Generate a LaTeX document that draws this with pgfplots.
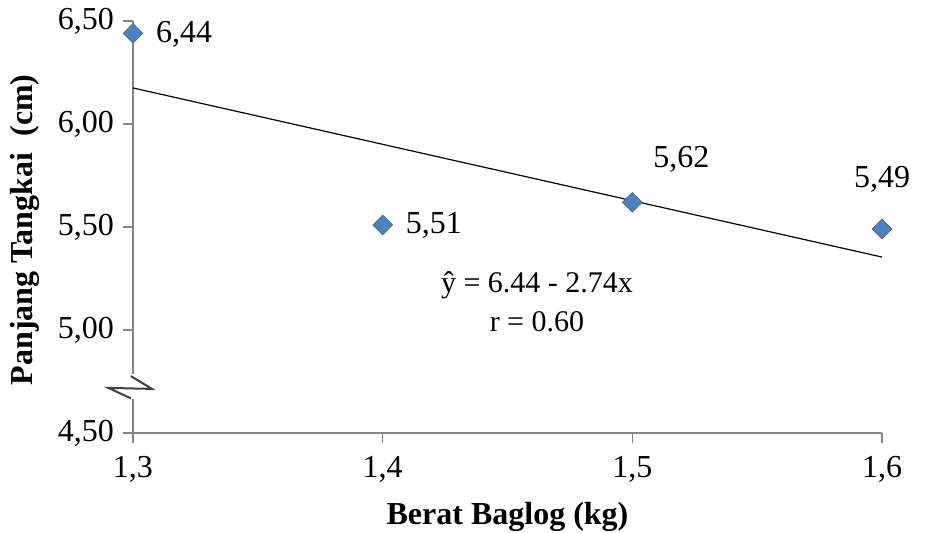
\documentclass[border=0pt]{standalone}
\usepackage{fontspec}
\setmainfont{Liberation Serif}
\usepackage{pgfplots}
\pgfplotsset{compat=1.18}

\definecolor{markblue}{HTML}{4F81BD}
\definecolor{axisgray}{HTML}{868686}

\begin{document}
\begin{tikzpicture}
\path[use as bounding box] (-66.5pt,-50pt) rectangle (396pt,216.5pt);
\begin{axis}[
    scale only axis,
    width=374.5pt,
    height=206pt,
    xmin=1.3, xmax=1.6,
    ymin=4.5, ymax=6.5,
    axis x line=bottom,
    axis y line=left,
    axis line style={axisgray, line width=0.6pt, -},
    xtick={1.3,1.4,1.5,1.6},
    ytick={4.5,5,5.5,6,6.5},
    tick align=outside,
    major tick length=5pt,
    tick style={axisgray, line width=0.6pt},
    xticklabel style={/pgf/number format/.cd, use comma, fixed, fixed zerofill, precision=1},
    yticklabel style={/pgf/number format/.cd, use comma, fixed, fixed zerofill, precision=2},
    /pgf/number format/assume math mode=true,
    ticklabel style={font=\fontsize{16}{19}\selectfont},
    xticklabel shift=3pt,
    yticklabel shift=1pt,
    clip=false,
]
% regression line
\addplot[black, line width=0.6pt] coordinates {(1.3,6.175) (1.6,5.354)};

% data points
\addplot[only marks, mark=square*, mark size=3.5pt,
    mark options={rotate=45, fill=markblue, draw=markblue!80!black, line width=0.3pt}]
    coordinates {(1.3,6.44) (1.4,5.51) (1.5,5.62) (1.6,5.49)};

% data labels
\begin{scope}[every node/.style={font=\fontsize{16}{19}\selectfont}]
\node at (axis cs:1.3205,6.437) {6,44};
\node at (axis cs:1.4205,5.51) {5,51};
\node at (axis cs:1.5196,5.83) {5,62};
\node at (axis cs:1.6,5.73) {5,49};
\end{scope}
\node[font=\fontsize{15}{18}\selectfont] at (axis cs:1.4618,5.218) {ŷ = 6.44 - 2.74x};
\node[font=\fontsize{15}{18}\selectfont] at (axis cs:1.4618,5.039) {r = 0.60};

% axis titles
\node[font=\fontsize{16}{19}\selectfont\bfseries] at (axis description cs:0.5,-0.204) {Berat Baglog (kg)};
\node[font=\fontsize{16}{19}\selectfont\bfseries, rotate=90] at (axis description cs:-0.144,0.493) {Panjang Tangkai\ \ (cm)};

% axis break
\fill[white] (axis cs:1.285,4.665) rectangle (axis cs:1.305,4.785);
\draw[black!75, line width=1pt]
    (axis cs:1.2992,4.776) -- (axis cs:1.3076,4.714) -- (axis cs:1.2901,4.719)
    -- (axis cs:1.2992,4.668);
\end{axis}
\end{tikzpicture}
\end{document}
